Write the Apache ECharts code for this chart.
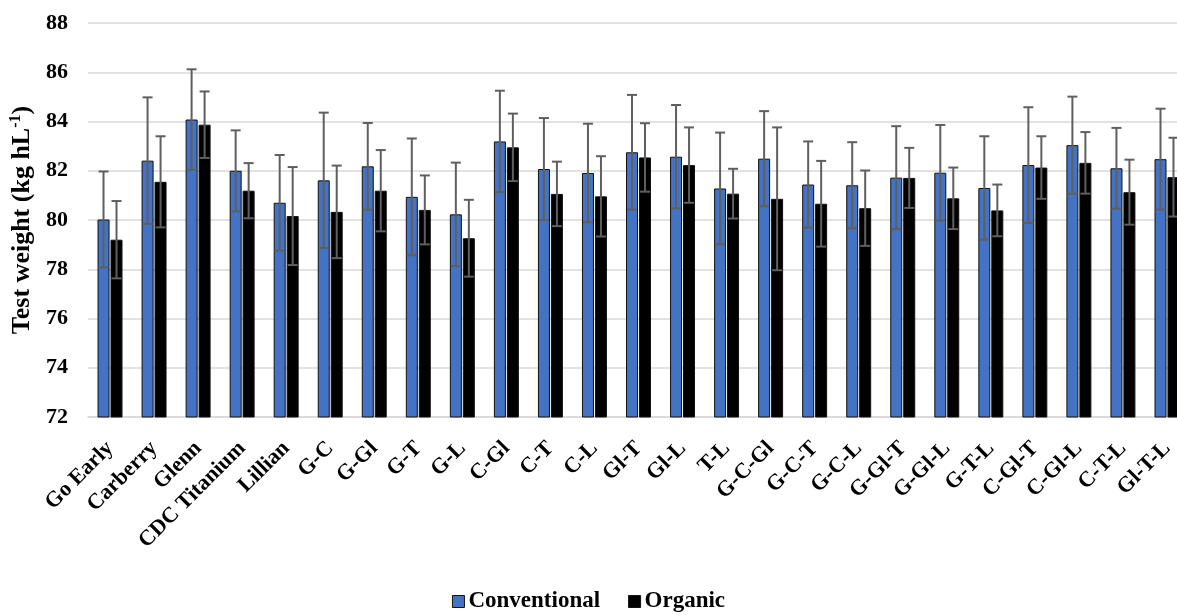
<!DOCTYPE html>
<html>
<head>
<meta charset="utf-8">
<script src="https://cdn.jsdelivr.net/npm/echarts@6/dist/echarts.min.js"></script>
<style>html,body{margin:0;padding:0;background:#fff;}#c{width:1177px;height:615px;}</style>
</head>
<body>
<div id="c"></div>
<script>
var categories = ['Go Early','Carberry','Glenn','CDC Titanium','Lillian','G-C','G-Gl','G-T','G-L','C-Gl','C-T','C-L','Gl-T','Gl-L','T-L','G-C-Gl','G-C-T','G-C-L','G-Gl-T','G-Gl-L','G-T-L','C-Gl-T','C-Gl-L','C-T-L','Gl-T-L'];
var conventional = [80.02,82.41,84.08,82.00,80.70,81.61,82.18,80.94,80.23,83.19,82.07,81.91,82.75,82.57,81.28,82.49,81.44,81.41,81.72,81.92,81.30,82.23,83.04,82.10,82.47];
var organic      = [79.20,81.55,83.87,81.19,80.16,80.33,81.19,80.41,79.26,82.95,81.06,80.96,82.54,82.23,81.07,80.86,80.66,80.48,81.71,80.88,80.39,82.13,82.32,81.13,81.74];
var conventionalSD = [1.95,2.57,2.04,1.64,1.94,2.75,1.76,2.37,2.10,2.06,2.07,2.00,2.33,2.10,2.27,1.93,1.75,1.75,2.09,1.94,2.10,2.35,1.97,1.64,2.05];
var organicSD      = [1.57,1.85,1.35,1.12,1.99,1.88,1.65,1.40,1.56,1.37,1.31,1.63,1.39,1.53,1.01,2.90,1.74,1.53,1.22,1.25,1.05,1.27,1.25,1.32,1.60];
var yTicks = {min: 72, max: 88, interval: 2};

var FONT = '"Liberation Serif", "Times New Roman", serif';
var BAR_W = 12, BAR_OFF = 6.5;

function errData(vals, sds) {
  return vals.map(function (v, i) { return [i, v - sds[i], v + sds[i]]; });
}
function errSeries(vals, sds, offset) {
  return {
    type: 'custom',
    name: 'err',
    z: 10,
    silent: true,
    clip: false,
    data: errData(vals, sds),
    encode: {x: 0, y: [1, 2]},
    renderItem: function (params, api) {
      var i = api.value(0);
      var lo = api.coord([i, api.value(1)]);
      var hi = api.coord([i, api.value(2)]);
      var x = lo[0] + offset;
      var cap = 5;
      var st = {stroke: '#5f5f5f', lineWidth: 2};
      return {
        type: 'group',
        children: [
          {type: 'line', shape: {x1: x, y1: hi[1], x2: x, y2: lo[1]}, style: st},
          {type: 'line', shape: {x1: x - cap, y1: hi[1], x2: x + cap, y2: hi[1]}, style: st},
          {type: 'line', shape: {x1: x - cap, y1: lo[1], x2: x + cap, y2: lo[1]}, style: st}
        ]
      };
    }
  };
}

var chart = echarts.init(document.getElementById('c'));
chart.setOption({
  animation: false,
  backgroundColor: '#fff',
  grid: {left: 88, top: 23, bottom: 198, width: 1101, containLabel: false, outerBoundsMode: 'none'},
  legend: {
    data: ['Conventional', 'Organic'],
    top: 585,
    left: 'center',
    icon: 'rect',
    itemWidth: 12,
    itemHeight: 12,
    itemGap: 28,
    itemStyle: {borderColor: '#111', borderWidth: 1},
    textStyle: {fontFamily: FONT, fontSize: 23, fontWeight: 'bold', color: '#000', padding: [0, 0, 0, -1]}
  },
  xAxis: {
    type: 'category',
    data: categories,
    axisLine: {lineStyle: {color: '#d9d9d9', width: 1.5}},
    axisTick: {show: false},
    axisLabel: {interval: 0, rotate: 45, margin: 28, fontFamily: FONT, fontSize: 22, fontWeight: 'bold', color: '#000'}
  },
  yAxis: {
    type: 'value',
    min: yTicks.min,
    max: yTicks.max,
    interval: yTicks.interval,
    name: 'Test weight (kg hL{sup|-1})',
    nameLocation: 'middle',
    nameGap: 50,
    nameRotate: 90,
    nameTextStyle: {
      fontFamily: FONT, fontSize: 26, fontWeight: 'bold', color: '#000',
      rich: {sup: {fontFamily: FONT, fontSize: 16, fontWeight: 'bold', color: '#000', verticalAlign: 'top', padding: [0, 0, 12, 0]}}
    },
    axisLine: {show: false},
    axisTick: {show: false},
    splitLine: {lineStyle: {color: '#d9d9d9', width: 1.5}},
    axisLabel: {margin: 20, fontFamily: FONT, fontSize: 22, fontWeight: 'bold', color: '#000'}
  },
  series: [
    {name: 'Conventional', type: 'bar', data: conventional, barWidth: BAR_W, barGap: '8%',
     itemStyle: {color: '#4472c4', borderColor: '#111', borderWidth: 1}},
    {name: 'Organic', type: 'bar', data: organic, barWidth: BAR_W, barGap: '8%',
     itemStyle: {color: '#000', borderColor: '#111', borderWidth: 1}},
    errSeries(conventional, conventionalSD, -BAR_OFF),
    errSeries(organic, organicSD, BAR_OFF)
  ]
});
</script>
</body>
</html>
